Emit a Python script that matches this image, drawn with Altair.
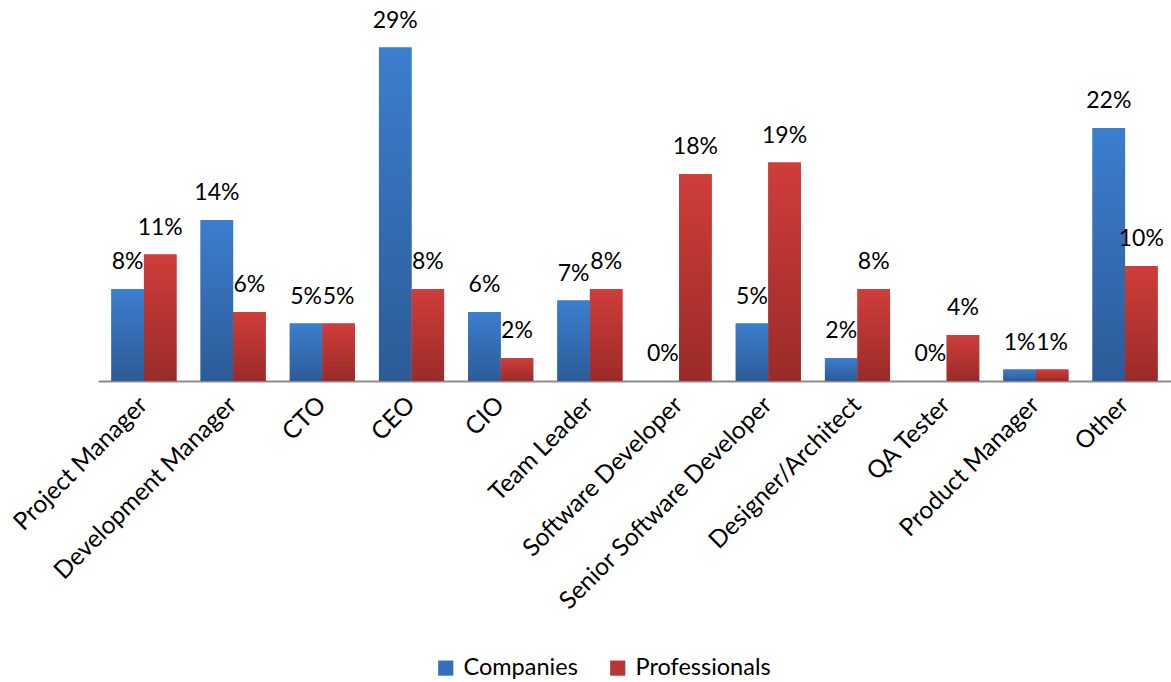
import altair as alt
import pandas as pd

categories = ["Project Manager", "Development Manager", "CTO", "CEO", "CIO", "Team Leader",
              "Software Developer", "Senior Software Developer", "Designer/Architect",
              "QA Tester", "Product Manager", "Other"]
companies = [8, 14, 5, 29, 6, 7, 0, 5, 2, 0, 1, 22]
professionals = [11, 6, 5, 8, 2, 8, 18, 19, 8, 4, 1, 10]
series_names = ["Companies", "Professionals"]

rows = []
for c, a, b in zip(categories, companies, professionals):
    rows.append({"cat": c, "series": "Companies", "val": a, "label": f"{a}%"})
    rows.append({"cat": c, "series": "Professionals", "val": b, "label": f"{b}%"})
df = pd.DataFrame(rows)

FONT = "Lato"
H = 381
W = 1073
ymax = H / 11.5

x = alt.X("cat:N", sort=categories, title=None,
          scale=alt.Scale(paddingInner=0.27, paddingOuter=0.15),
          axis=alt.Axis(labelAngle=-45, labelFontSize=24.5, labelFont=FONT, labelColor="#000",
                        ticks=False, domainColor="#8c8c8c", domainWidth=2,
                        labelPadding=20, labelAlign="right", labelBaseline="middle",
                        labelLimit=400))
y = alt.Y("val:Q", scale=alt.Scale(domain=[0, ymax], nice=False), axis=None)
xo = alt.XOffset("series:N", sort=series_names)

base = alt.Chart(df)

legend_bars = base.mark_bar().encode(
    x=x, y=y, xOffset=xo,
    color=alt.Color("series:N", sort=series_names,
                    scale=alt.Scale(domain=series_names, range=["#3570bd", "#bd3533"]),
                    legend=alt.Legend(title=None, orient="none", direction="horizontal",
                                      legendX=336, legendY=H + 275, labelFontSize=23.5,
                                      labelFont=FONT, symbolType="square", symbolSize=230,
                                      symbolStrokeWidth=0, columnPadding=28, labelOffset=6)),
)

blue_grad = alt.Gradient(gradient="linear", x1=0, x2=0, y1=0, y2=1,
                         stops=[alt.GradientStop(color="#3c7ecf", offset=0),
                                alt.GradientStop(color="#2c5b97", offset=1)])
red_grad = alt.Gradient(gradient="linear", x1=0, x2=0, y1=0, y2=1,
                        stops=[alt.GradientStop(color="#d03d3a", offset=0),
                               alt.GradientStop(color="#9a2b28", offset=1)])

blue_bars = base.transform_filter(alt.datum.series == "Companies").mark_bar(fill=blue_grad).encode(
    x=x, y=y, xOffset=xo)
red_bars = base.transform_filter(alt.datum.series == "Professionals").mark_bar(fill=red_grad).encode(
    x=x, y=y, xOffset=xo)

labels = base.mark_text(fontSize=23, font=FONT, color="#000", dy=-27, baseline="middle").encode(
    x=x, y=y, xOffset=xo, text="label:N")

chart = alt.layer(legend_bars, blue_bars, red_bars, labels).properties(
    width=W, height=H,
    autosize=alt.AutoSizeParams(type="none"),
    padding={"left": 98, "top": 0, "right": 0, "bottom": 301},
).configure_view(stroke=None).configure_scale(offsetBandPaddingInner=0)

chart.save("out.html", embed_options={"renderer": "svg", "actions": False})
